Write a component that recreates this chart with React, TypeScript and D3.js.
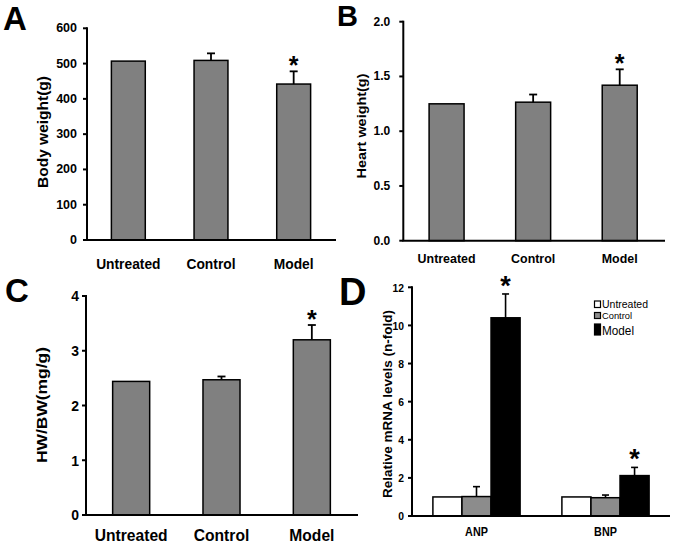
import React from "react";
import * as d3 from "d3";

// ---------- data ----------
const groups = ["Untreated", "Control", "Model"];
const bodyWeight = [507, 509, 442];
const bodyWeightErr = [0, 20, 36];
const heartWeight = [1.25, 1.265, 1.42];
const heartWeightErr = [0, 0.07, 0.145];
const hwbw = [2.44, 2.47, 3.2];
const hwbwErr = [0, 0.06, 0.27];
const groupSig = [false, false, true];

const genes = ["ANP", "BNP"];
const seriesNames = ["Untreated", "Control", "Model"];
const mrnaUntreated = [1.0, 1.0];
const mrnaUntreatedErr = [0, 0];
const mrnaControl = [1.02, 0.96];
const mrnaControlErr = [0.52, 0.14];
const mrnaModel = [10.4, 2.12];
const mrnaModelErr = [1.25, 0.43];
const mrnaModelSig = [true, true];

const ticksA = [0, 100, 200, 300, 400, 500, 600];
const ticksB = [0, 0.5, 1.0, 1.5, 2.0];
const ticksC = [0, 1, 2, 3, 4];
const ticksD = [0, 2, 4, 6, 8, 10, 12];

const FONT = "'Liberation Sans', Arial, Helvetica, sans-serif";
const BAR_GRAY = "#808080";

type PanelCfg = {
  letter: string;
  letterX: number;
  letterY: number;
  letterSize: number;
  x0: number;
  x1: number;
  axisRight: number;
  yBottom: number;
  yTop: number;
  domainMax: number;
  ticks: number[];
  tickFmt: (v: number) => string;
  tickFont: number;
  tickSx: number;
  tickOffset: number;
  ylabel: string;
  ylabelX: number;
  ylabelY: number;
  ylabelFont: number;
  ylabelLen: number;
  xlabelY: number;
  xlabelFont: number;
  xlabelSx: number;
  padInner: number;
  values: number[];
  errs: number[];
  starOffset: number;
};

function SText(props: {
  x: number;
  y: number;
  fs: number;
  sx?: number;
  anchor?: string;
  weight?: string | number;
  baseline?: string;
  children: React.ReactNode;
}) {
  const { x, y, fs, sx = 1, anchor = "start", weight = "bold", baseline } = props;
  return (
    <text
      transform={`translate(${x},${y}) scale(${sx},1)`}
      fontSize={fs}
      fontWeight={weight}
      textAnchor={anchor}
      dominantBaseline={baseline}
      fontFamily={FONT}
      fill="#000"
    >
      {props.children}
    </text>
  );
}

function SimplePanel({ c }: { c: PanelCfg }) {
  const x = d3
    .scaleBand<string>()
    .domain(groups)
    .range([c.x0, c.x1])
    .paddingInner(c.padInner)
    .paddingOuter(c.padInner / 2);
  const y = d3.scaleLinear().domain([0, c.domainMax]).range([c.yBottom, c.yTop]);
  const bw = x.bandwidth();
  const axisLeft = c.x0;
  return (
    <g>
      <SText x={c.letterX} y={c.letterY} fs={c.letterSize}>
        {c.letter}
      </SText>
      {groups.map((g, i) => {
        const bx = x(g)!;
        const top = y(c.values[i]);
        const errTop = y(c.values[i] + c.errs[i]);
        const cx = bx + bw / 2;
        return (
          <g key={g}>
            <rect x={bx} y={top} width={bw} height={c.yBottom - top} fill={BAR_GRAY} stroke="#000" strokeWidth={1.5} />
            {c.errs[i] > 0 && (
              <g stroke="#000" strokeWidth={1.8}>
                <line x1={cx} x2={cx} y1={top} y2={errTop} />
                <line x1={cx - 4} x2={cx + 4} y1={errTop} y2={errTop} />
              </g>
            )}
            {groupSig[i] && (
              <SText x={cx} y={errTop + c.starOffset} fs={25} anchor="middle">
                *
              </SText>
            )}
            <SText x={cx} y={c.xlabelY} fs={c.xlabelFont} sx={c.xlabelSx} anchor="middle">
              {g}
            </SText>
          </g>
        );
      })}
      <line x1={axisLeft} x2={axisLeft} y1={c.yTop - 1} y2={c.yBottom} stroke="#000" strokeWidth={2} />
      <line x1={axisLeft - 1} x2={c.axisRight} y1={c.yBottom} y2={c.yBottom} stroke="#000" strokeWidth={2} />
      {c.ticks.map((t) => (
        <g key={t}>
          <line x1={axisLeft - 4} x2={axisLeft} y1={y(t)} y2={y(t)} stroke="#000" strokeWidth={2} />
          <SText x={axisLeft - c.tickOffset} y={y(t)} fs={c.tickFont} sx={c.tickSx} anchor="end" baseline="central">
            {c.tickFmt(t)}
          </SText>
        </g>
      ))}
      <text
        transform={`translate(${c.ylabelX},${c.ylabelY}) rotate(-90)`}
        fontSize={c.ylabelFont}
        fontWeight="bold"
        textAnchor="middle"
        dominantBaseline="central"
        fontFamily={FONT}
        textLength={c.ylabelLen}
        lengthAdjust="spacingAndGlyphs"
      >
        {c.ylabel}
      </text>
    </g>
  );
}

function PanelD() {
  const x0 = 412;
  const x1 = 670;
  const yBottom = 516;
  const yTop = 287.3;
  const xo = d3.scaleBand<string>().domain(genes).range([x0, x1]).paddingInner(0.324).paddingOuter(0.162);
  const xi = d3.scaleBand<string>().domain(seriesNames).range([0, xo.bandwidth()]);
  const y = d3.scaleLinear().domain([0, 12]).range([yBottom, yTop]);
  const series = [
    { name: "Untreated", vals: mrnaUntreated, errs: mrnaUntreatedErr, fill: "#ffffff", sig: [false, false] },
    { name: "Control", vals: mrnaControl, errs: mrnaControlErr, fill: "#8c8c8c", sig: [false, false] },
    { name: "Model", vals: mrnaModel, errs: mrnaModelErr, fill: "#000000", sig: mrnaModelSig },
  ];
  const bw = xi.bandwidth();
  const legend = [
    { name: "Untreated", fill: "#ffffff", fs: 11, y: 307.5, h: 6.5, len: 46 },
    { name: "Control", fill: "#8c8c8c", fs: 9, y: 318.5, h: 6, len: 30 },
    { name: "Model", fill: "#000000", fs: 12.5, y: 335, h: 11, len: 32 },
  ];
  return (
    <g>
      <SText x={339} y={305} fs={38}>
        D
      </SText>
      {genes.map((g, gi) => (
        <g key={g}>
          {series.map((s) => {
            const bx = xo(g)! + xi(s.name)!;
            const top = y(s.vals[gi]);
            const errTop = y(s.vals[gi] + s.errs[gi]);
            const cx = bx + bw / 2;
            return (
              <g key={s.name}>
                <rect x={bx} y={top} width={bw} height={yBottom - top} fill={s.fill} stroke="#000" strokeWidth={1.5} />
                {s.errs[gi] > 0 && (
                  <g stroke="#000" strokeWidth={1.6}>
                    <line x1={cx} x2={cx} y1={top} y2={errTop} />
                    <line x1={cx - 3.5} x2={cx + 3.5} y1={errTop} y2={errTop} />
                  </g>
                )}
                {s.sig[gi] && (
                  <SText x={cx} y={errTop + 1} fs={27} anchor="middle">
                    *
                  </SText>
                )}
              </g>
            );
          })}
          <SText x={xo(g)! + xo.bandwidth() / 2} y={536} fs={12} sx={0.9} anchor="middle">
            {g}
          </SText>
        </g>
      ))}
      <line x1={x0} x2={x0} y1={yTop - 1} y2={yBottom} stroke="#000" strokeWidth={2} />
      <line x1={x0 - 1} x2={x1} y1={yBottom} y2={yBottom} stroke="#000" strokeWidth={2} />
      {ticksD.map((t) => (
        <g key={t}>
          <line x1={x0 - 4} x2={x0} y1={y(t)} y2={y(t)} stroke="#000" strokeWidth={2} />
          <SText x={x0 - 8} y={y(t)} fs={11.5} sx={0.9} anchor="end" baseline="central">
            {String(t)}
          </SText>
        </g>
      ))}
      <text
        transform={`translate(387.5,404) rotate(-90)`}
        fontSize={12.5}
        fontWeight="bold"
        textAnchor="middle"
        dominantBaseline="central"
        fontFamily={FONT}
        textLength={188}
        lengthAdjust="spacingAndGlyphs"
      >
        Relative mRNA levels (n-fold)
      </text>
      {legend.map((l) => (
        <g key={l.name}>
          <rect x={594.5} y={l.y - l.h} width={6} height={l.h} fill={l.fill} stroke="#000" strokeWidth={1.2} />
          <text
            x={602}
            y={l.y}
            fontSize={l.fs}
            fontFamily={FONT}
            textLength={l.len}
            lengthAdjust="spacingAndGlyphs"
          >
            {l.name}
          </text>
        </g>
      ))}
    </g>
  );
}

const panelA: PanelCfg = {
  letter: "A",
  letterX: 3,
  letterY: 30,
  letterSize: 33,
  x0: 87,
  x1: 335,
  axisRight: 336,
  yBottom: 240,
  yTop: 28.3,
  domainMax: 600,
  ticks: ticksA,
  tickFmt: (v) => String(v),
  tickFont: 12.5,
  tickSx: 1,
  tickOffset: 10,
  ylabel: "Body weight(g)",
  ylabelX: 42.5,
  ylabelY: 132,
  ylabelFont: 15.5,
  ylabelLen: 112,
  xlabelY: 269,
  xlabelFont: 15,
  xlabelSx: 0.92,
  padInner: 0.59,
  values: bodyWeight,
  errs: bodyWeightErr,
  starOffset: 3,
};

const panelB: PanelCfg = {
  letter: "B",
  letterX: 337,
  letterY: 26,
  letterSize: 29,
  x0: 403.3,
  x1: 663,
  axisRight: 665,
  yBottom: 240.7,
  yTop: 21.7,
  domainMax: 2,
  ticks: ticksB,
  tickFmt: (v) => d3.format(".1f")(v),
  tickFont: 12,
  tickSx: 1,
  tickOffset: 13,
  ylabel: "Heart weight(g)",
  ylabelX: 362,
  ylabelY: 126,
  ylabelFont: 12.5,
  ylabelLen: 105,
  xlabelY: 263,
  xlabelFont: 13.5,
  xlabelSx: 0.92,
  padInner: 0.596,
  values: heartWeight,
  errs: heartWeightErr,
  starOffset: 3,
};

const panelC: PanelCfg = {
  letter: "C",
  letterX: 5,
  letterY: 302,
  letterSize: 33,
  x0: 86,
  x1: 357,
  axisRight: 358,
  yBottom: 515,
  yTop: 296,
  domainMax: 4,
  ticks: ticksC,
  tickFmt: (v) => String(v),
  tickFont: 15.5,
  tickSx: 0.9,
  tickOffset: 7,
  ylabel: "HW/BW(mg/g)",
  ylabelX: 41.5,
  ylabelY: 405,
  ylabelFont: 15.5,
  ylabelLen: 116,
  xlabelY: 541,
  xlabelFont: 17,
  xlabelSx: 0.92,
  padInner: 0.59,
  values: hwbw,
  errs: hwbwErr,
  starOffset: 2.5,
};

export default function App() {
  return (
    <svg
      width={675}
      height={553}
      viewBox="0 0 675 553"
      style={{ position: "absolute", left: 0, top: 0, background: "#fff" }}
    >
      <rect x={0} y={0} width={675} height={553} fill="#fff" />
      <SimplePanel c={panelA} />
      <SimplePanel c={panelB} />
      <SimplePanel c={panelC} />
      <PanelD />
    </svg>
  );
}
